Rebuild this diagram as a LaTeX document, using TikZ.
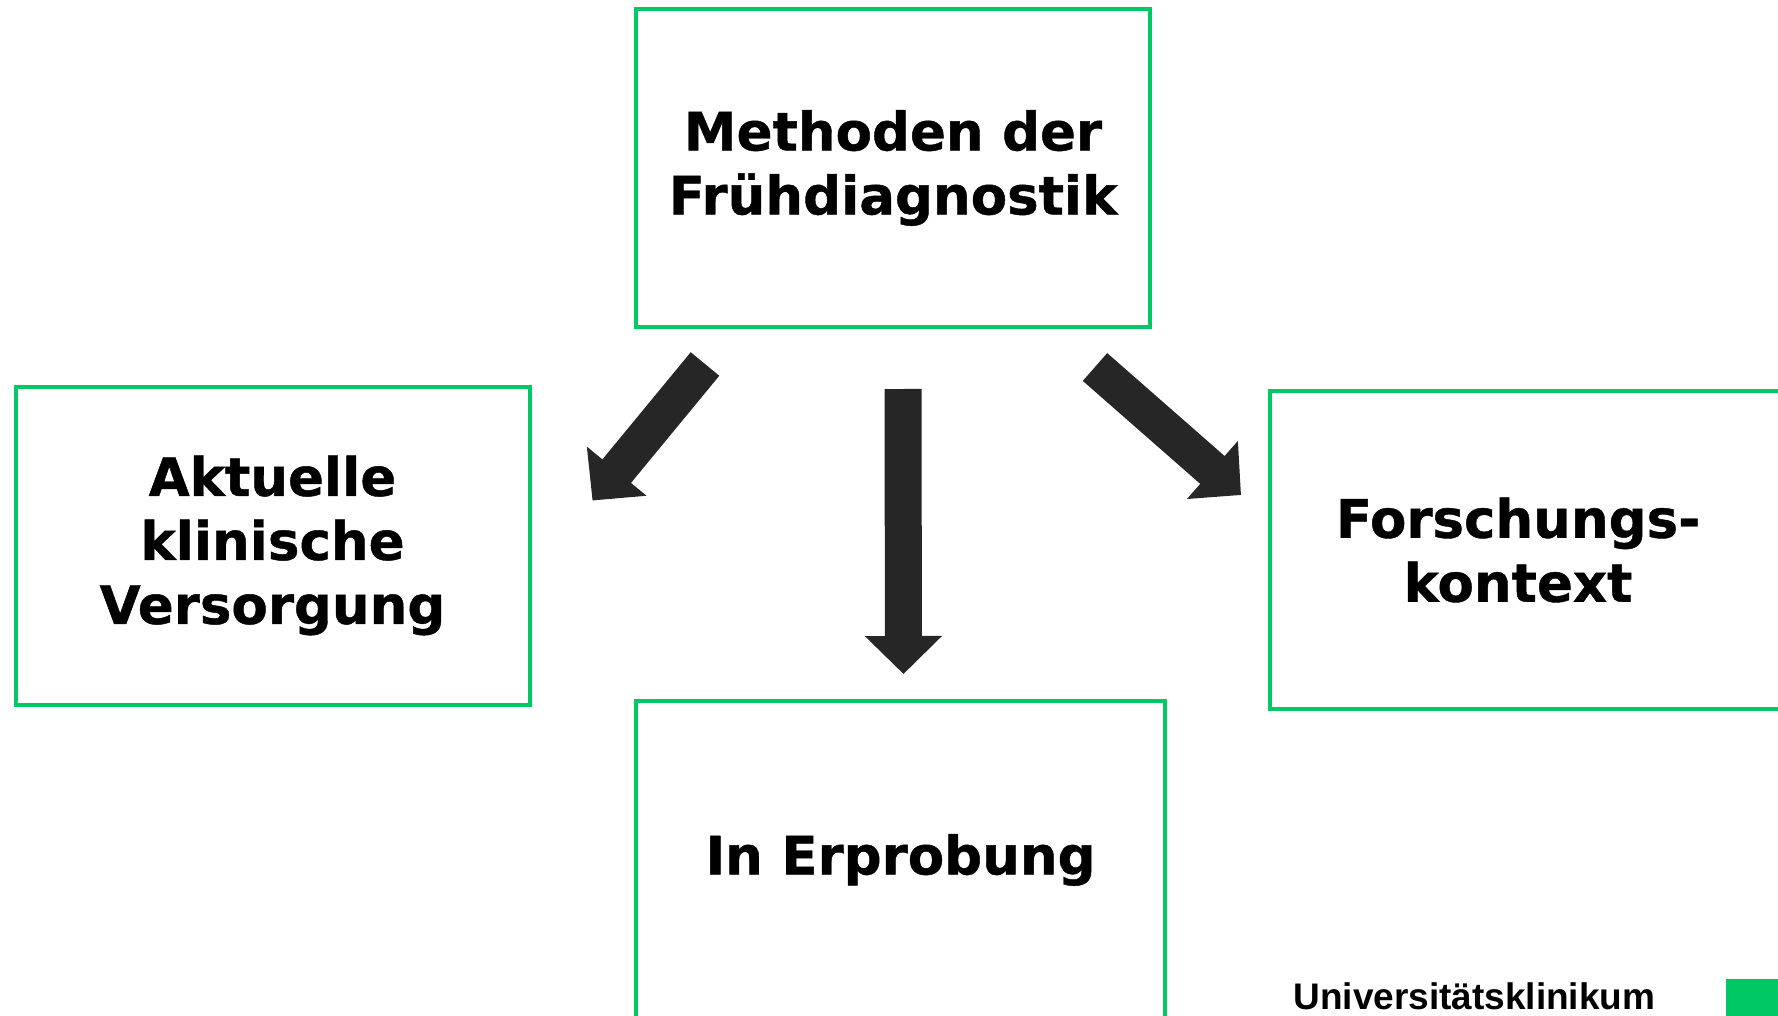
\documentclass[tikz,border=0pt]{standalone}
\usepackage{fontspec}
\setmainfont[BoldFeatures={FakeBold=0.8}]{DejaVu Sans}
\newfontfamily\logofont{Liberation Sans}
\usetikzlibrary{positioning}
\usetikzlibrary{arrows.meta}
\definecolor{ukgreen}{RGB}{0,200,100}
\definecolor{arrowgray}{RGB}{38,38,38}
\tikzstyle{box}=[rectangle, draw=ukgreen, line width=2pt, align=center, minimum width=257pt, minimum height=159pt, font=\fontsize{26.5}{32}\selectfont\bfseries]
\tikzstyle{block arrow}=[arrowgray, line width=18.5pt, -{Triangle[length=19pt,width=37.5pt]}]

\begin{document}
\begin{tikzpicture}[x=0.5pt,y=-0.5pt]
\useasboundingbox (0,0) rectangle (1778,1016);

\node[box] (methods) at (893,168) {Methoden der\\Frühdiagnostik};
\node[box] (clinical) at (272.5,545.5) {Aktuelle\\klinische\\Versorgung};
\node[box] (research) at (1527,550) {Forschungs-\hspace*{9pt}\\kontext\hspace*{9pt}};
\node[box, minimum width=264.5pt] (trial) at (900.5,860) {In Erprobung};

% arrow ends, taken from the boxes
\coordinate (clinical tail) at ([xshift=35.5pt,yshift=-17.5pt]methods.south west);
\coordinate (clinical tip) at ([xshift=30.5pt,yshift=-58pt]clinical.north east);
\coordinate (trial tail) at ([xshift=5pt,yshift=-30pt]methods.south);
\coordinate (trial tip) at ([xshift=1.5pt,yshift=12.5pt]trial.north);
\coordinate (research tail) at ([xshift=-28.5pt,yshift=-19pt]methods.south east);
\coordinate (research tip) at ([xshift=-13.5pt,yshift=-53pt]research.north west);

\begin{scope}[block arrow]
    \draw (clinical tail) -- (clinical tip);
    \draw (trial tail) -- (trial tip);
    \draw (research tail) -- (research tip);
\end{scope}

\node[anchor=base west, inner sep=0pt, font=\logofont\bfseries\fontsize{18.5}{22}\selectfont] (logo) at (1293,1009) {Universitätsklinikum};
\node[fill=ukgreen, anchor=north west, inner sep=0pt, minimum width=30pt, minimum height=25pt] (logomark) at (1726,979) {};

\end{tikzpicture}
\end{document}
